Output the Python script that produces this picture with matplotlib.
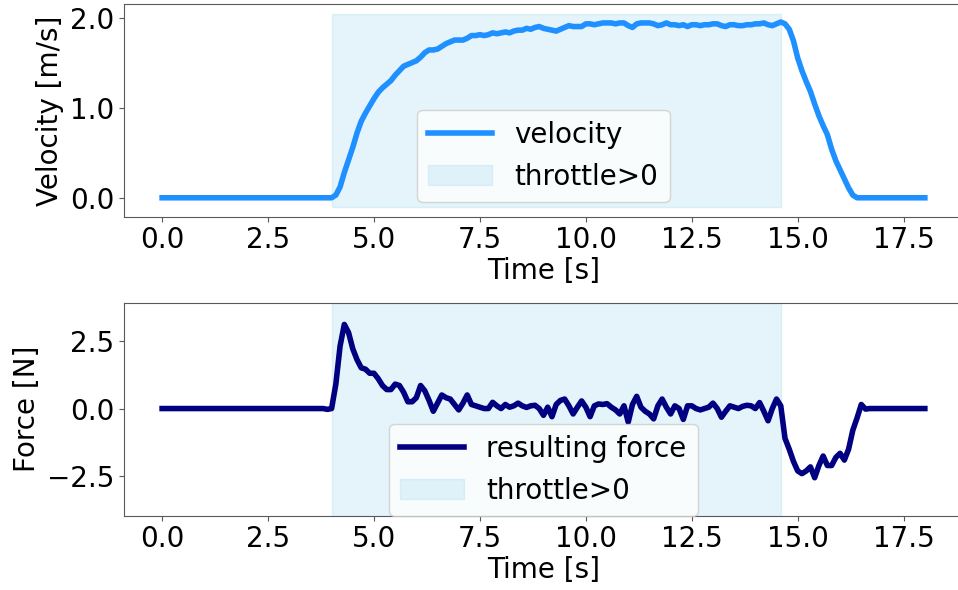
import numpy as np
import matplotlib
matplotlib.use("Agg")
import matplotlib.pyplot as plt
from matplotlib.ticker import FormatStrFormatter

# time axis, sampled every 0.1 s
time = np.round(np.arange(0, 18.01, 0.1), 1)

# velocity [m/s], one value per sample
velocity = [
    # 0.0 - 3.9
    0.0, 0.0, 0.0, 0.0, 0.0, 0.0, 0.0, 0.0, 0.0, 0.0,
    0.0, 0.0, 0.0, 0.0, 0.0, 0.0, 0.0, 0.0, 0.0, 0.0,
    0.0, 0.0, 0.0, 0.0, 0.0, 0.0, 0.0, 0.0, 0.0, 0.0,
    0.0, 0.0, 0.0, 0.0, 0.0, 0.0, 0.0, 0.0, 0.0, 0.0,
    # 4.0 - 4.9
    0.0, 0.03, 0.12, 0.28, 0.42, 0.56, 0.72, 0.85, 0.94, 1.02,
    # 5.0 - 5.9
    1.10, 1.17, 1.22, 1.26, 1.30, 1.36, 1.41, 1.46, 1.48, 1.50,
    # 6.0 - 6.9
    1.52, 1.56, 1.61, 1.64, 1.64, 1.65, 1.68, 1.71, 1.73, 1.75,
    # 7.0 - 7.9
    1.75, 1.75, 1.77, 1.80, 1.80, 1.81, 1.80, 1.81, 1.83, 1.82,
    # 8.0 - 8.9
    1.83, 1.84, 1.83, 1.85, 1.86, 1.86, 1.88, 1.87, 1.89, 1.90,
    # 9.0 - 9.9
    1.88, 1.87, 1.86, 1.85, 1.87, 1.89, 1.91, 1.90, 1.90, 1.90,
    # 10.0 - 10.9
    1.93, 1.93, 1.92, 1.93, 1.94, 1.94, 1.94, 1.93, 1.94, 1.94,
    # 11.0 - 11.9
    1.91, 1.89, 1.93, 1.94, 1.94, 1.94, 1.93, 1.91, 1.92, 1.94,
    # 12.0 - 12.9
    1.92, 1.92, 1.91, 1.92, 1.90, 1.92, 1.92, 1.91, 1.92, 1.92,
    # 13.0 - 13.9
    1.93, 1.93, 1.91, 1.90, 1.92, 1.92, 1.91, 1.91, 1.92, 1.92,
    # 14.0 - 14.9
    1.93, 1.93, 1.94, 1.92, 1.91, 1.93, 1.95, 1.93, 1.87, 1.74,
    # 15.0 - 15.9
    1.55, 1.41, 1.29, 1.18, 1.04, 0.91, 0.80, 0.70, 0.54, 0.41,
    # 16.0 - 16.9
    0.31, 0.21, 0.11, 0.03, 0.0, 0.0, 0.0, 0.0, 0.0, 0.0,
    # 17.0 - 18.0
    0.0, 0.0, 0.0, 0.0, 0.0, 0.0, 0.0, 0.0, 0.0, 0.0, 0.0,
]

# resulting force [N], one value per sample
force = [
    # 0.0 - 3.9
    0.0, 0.0, 0.0, 0.0, 0.0, 0.0, 0.0, 0.0, 0.0, 0.0,
    0.0, 0.0, 0.0, 0.0, 0.0, 0.0, 0.0, 0.0, 0.0, 0.0,
    0.0, 0.0, 0.0, 0.0, 0.0, 0.0, 0.0, 0.0, 0.0, 0.0,
    0.0, 0.0, 0.0, 0.0, 0.0, 0.0, 0.0, 0.0, 0.0, -0.03,
    # 4.0 - 4.9
    0.0, 0.9, 2.3, 3.1, 2.8, 2.2, 1.8, 1.5, 1.45, 1.3,
    # 5.0 - 5.9
    1.3, 1.1, 0.85, 0.7, 0.7, 0.9, 0.85, 0.6, 0.25, 0.25,
    # 6.0 - 6.9
    0.4, 0.85, 0.65, 0.3, -0.1, 0.2, 0.5, 0.4, 0.35, 0.15,
    # 7.0 - 7.9
    -0.05, 0.2, 0.5, 0.15, 0.1, 0.05, 0.0, 0.0, 0.23, 0.1,
    # 8.0 - 8.9
    0.0, 0.15, 0.05, 0.1, 0.2, 0.1, 0.04, 0.1, 0.12, 0.0,
    # 9.0 - 9.9
    -0.25, 0.05, -0.3, 0.15, 0.3, 0.35, 0.1, -0.2, 0.05, 0.28,
    # 10.0 - 10.9
    0.05, -0.3, 0.1, 0.17, 0.15, 0.18, 0.05, -0.05, -0.2, 0.1,
    # 11.0 - 11.9
    -0.5, 0.15, 0.45, 0.05, -0.1, -0.2, -0.38, 0.1, 0.35, 0.05,
    # 12.0 - 12.9
    -0.2, 0.1, 0.0, -0.4, 0.1, 0.1, 0.0, -0.05, 0.0, 0.05,
    # 13.0 - 13.9
    0.2, 0.0, -0.32, -0.1, 0.1, 0.05, 0.0, 0.08, 0.12, 0.1,
    # 14.0 - 14.9
    0.0, 0.22, -0.1, -0.45, 0.0, 0.35, 0.1, -1.1, -1.5, -1.95,
    # 15.0 - 15.9
    -2.3, -2.4, -2.3, -2.15, -2.55, -2.1, -1.75, -2.1, -2.1, -1.8,
    # 16.0 - 16.9
    -1.65, -1.9, -1.5, -0.8, -0.35, 0.15, -0.02, 0.0, 0.0, 0.0,
    # 17.0 - 18.0
    0.0, 0.0, 0.0, 0.0, 0.0, 0.0, 0.0, 0.0, 0.0, 0.0, 0.0,
]

# interval where throttle > 0
throttle_start = 4.0
throttle_end = 14.6

plt.rcParams['font.size'] = 20
plt.rcParams['axes.edgecolor'] = '0.35'
plt.rcParams['xtick.color'] = '0.35'
plt.rcParams['ytick.color'] = '0.35'
plt.rcParams['xtick.labelcolor'] = 'black'
plt.rcParams['ytick.labelcolor'] = 'black'
plt.rcParams['legend.handlelength'] = 2.3

fig = plt.figure(figsize=(9.58, 5.90), dpi=100)
ax1 = fig.add_axes([0.1294, 0.6327, 0.8758, 0.3605])
ax2 = fig.add_axes([0.1294, 0.1259, 0.8758, 0.3610])

shade_t = [throttle_start, throttle_end]
shade_color = 'skyblue'

# velocity panel
ax1.plot(time, velocity, color='dodgerblue', lw=4, label='velocity')
ax1.fill_between(shade_t, [-0.1, -0.1], [2.04, 2.04], color=shade_color,
                 alpha=0.22, label='throttle>0')
ax1.set_xlim(-0.9, 18.9)
ax1.set_ylim(-0.21, 2.15)
ax1.set_yticks([0.0, 1.0, 2.0])
ax1.yaxis.set_major_formatter(FormatStrFormatter('%.1f'))
ax1.set_xticks([0, 2.5, 5, 7.5, 10, 12.5, 15, 17.5])
ax1.set_xlabel('Time [s]', labelpad=2)
ax1.set_ylabel('Velocity [m/s]')
ax1.spines['right'].set_visible(False)
ax1.legend(loc='lower center', bbox_to_anchor=(0.5, 0.07), borderaxespad=0)

# force panel
ax2.plot(time, force, color='navy', lw=4, label='resulting force')
ax2.axvspan(throttle_start, throttle_end, color=shade_color, alpha=0.22,
            label='throttle>0')
ax2.set_xlim(-0.9, 18.9)
ax2.set_ylim(-3.95, 3.9)
ax2.set_yticks([-2.5, 0.0, 2.5])
ax2.set_xticks([0, 2.5, 5, 7.5, 10, 12.5, 15, 17.5])
ax2.set_xlabel('Time [s]', labelpad=2)
ax2.set_ylabel('Force [N]')
ax2.spines['right'].set_visible(False)
ax2.legend(loc='lower center', bbox_to_anchor=(0.5, 0.0), borderaxespad=0)

fig.savefig('out.png', dpi=100)
